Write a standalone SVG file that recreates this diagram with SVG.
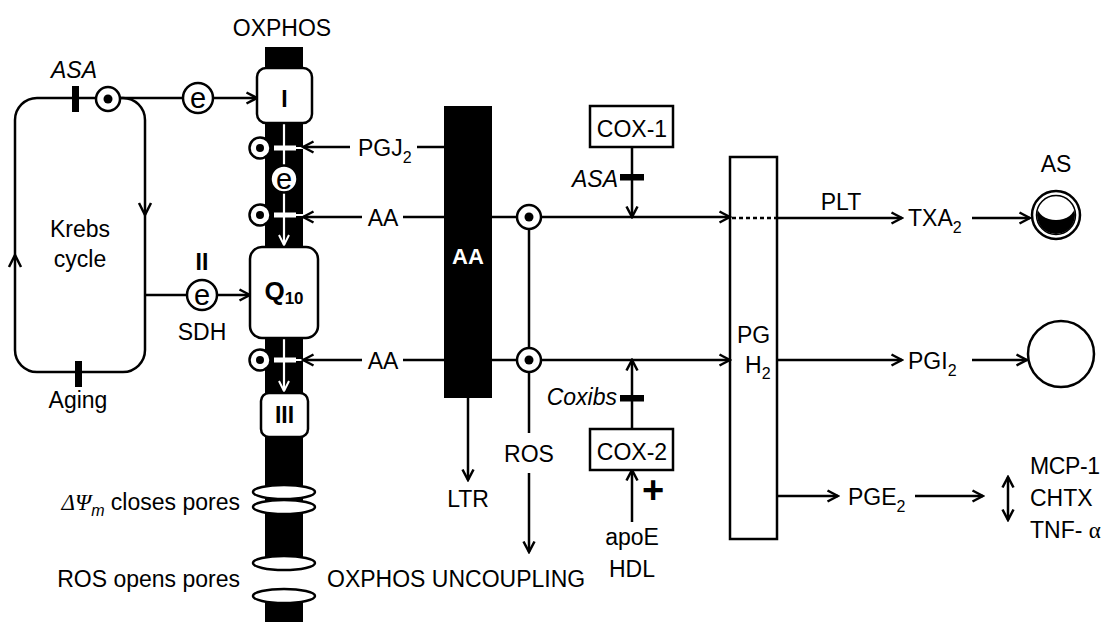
<svg xmlns="http://www.w3.org/2000/svg" width="1104" height="622" viewBox="0 0 1104 622">
<style>
text{font-family:"Liberation Sans",Arial,sans-serif;font-size:23px;fill:#000}
.it{font-style:italic}
.b{font-weight:bold}
.c{text-anchor:middle}
.e{text-anchor:end}
.ln{stroke:#000;stroke-width:2.5;fill:none}
.wl{stroke:#fff;stroke-width:2.2;fill:none}
.bx{fill:#fff;stroke:#000;stroke-width:2.5}
.dot{fill:#fff;stroke:#000;stroke-width:2.5}
.pore{fill:#fff;stroke:#000;stroke-width:2.5}
.el{font-size:29px}
</style>
<defs>
<marker id="ah" markerWidth="14" markerHeight="14" refX="12" refY="7" orient="auto-start-reverse" markerUnits="userSpaceOnUse" viewBox="0 0 14 14">
<path d="M1.5,1.5 L12,7 L1.5,12.5" fill="none" stroke="#000" stroke-width="2.5"/>
</marker>
<marker id="wah" markerWidth="14" markerHeight="14" refX="12" refY="7" orient="auto" markerUnits="userSpaceOnUse" viewBox="0 0 14 14">
<path d="M2,2 L12,7 L2,12" fill="none" stroke="#fff" stroke-width="2"/>
</marker>
<clipPath id="asclip"><circle cx="1056" cy="215" r="19"/></clipPath>
</defs>

<g id="oxphos-column">
<rect x="265" y="47" width="38" height="516" fill="#000"/>
<rect x="265" y="597" width="38" height="25" fill="#000"/>
<text class="c" x="282" y="36">OXPHOS</text>
</g>

<g id="pores">
<ellipse class="pore" cx="284" cy="492" rx="31" ry="7"/>
<ellipse class="pore" cx="284" cy="507" rx="31" ry="7"/>
<ellipse class="pore" cx="284" cy="563" rx="31" ry="7"/>
<ellipse class="pore" cx="284" cy="596" rx="31" ry="7"/>
<text class="e" x="240" y="510"><tspan class="it" font-family="Liberation Serif">ΔΨ</tspan><tspan class="it" font-size="16" dy="6">m</tspan><tspan dy="-6"> closes pores</tspan></text>
<text class="e" x="240" y="587">ROS opens pores</text>
</g>

<g id="connectors">
<!-- Krebs cycle loop -->
<rect class="ln" x="15" y="98" width="130" height="274" rx="22"/>
<path class="ln" d="M139,203 L145,215 L151,203"/>
<path class="ln" d="M9,267 L15,255 L21,267"/>
<line class="ln" x1="120" y1="98" x2="183" y2="98"/>
<line class="ln" x1="213" y1="98" x2="257" y2="98" marker-end="url(#ah)"/>
<line class="ln" x1="145" y1="295" x2="187" y2="295"/>
<line class="ln" x1="217" y1="295" x2="250" y2="295" marker-end="url(#ah)"/>
<!-- column internal white flow -->
<line class="wl" x1="284" y1="123" x2="284" y2="166"/>
<line class="wl" x1="284" y1="192" x2="284" y2="245" marker-end="url(#wah)"/>
<line class="wl" x1="284" y1="338" x2="284" y2="391" marker-end="url(#wah)"/>
<rect x="274" y="145.5" width="22" height="5" fill="#fff"/>
<rect x="295" y="147" width="8" height="2" fill="#fff"/>
<rect x="274" y="212.5" width="22" height="5" fill="#fff"/>
<rect x="295" y="214" width="8" height="2" fill="#fff"/>
<rect x="274" y="357.5" width="22" height="5" fill="#fff"/>
<rect x="295" y="359" width="8" height="2" fill="#fff"/>
<!-- inputs into column -->
<line class="ln" x1="350" y1="147" x2="303" y2="147" marker-end="url(#ah)"/>
<line class="ln" x1="417" y1="147" x2="444" y2="147"/>
<line class="ln" x1="362" y1="217" x2="303" y2="217" marker-end="url(#ah)"/>
<line class="ln" x1="403" y1="217" x2="444" y2="217"/>
<line class="ln" x1="362" y1="360" x2="303" y2="360" marker-end="url(#ah)"/>
<line class="ln" x1="403" y1="360" x2="444" y2="360"/>
<!-- AA to PGH2 -->
<line class="ln" x1="492" y1="217" x2="517" y2="217"/>
<line class="ln" x1="541" y1="217" x2="730" y2="217" marker-end="url(#ah)"/>
<line class="ln" x1="492" y1="360" x2="517" y2="360"/>
<line class="ln" x1="541" y1="360" x2="730" y2="360" marker-end="url(#ah)"/>
<line class="ln" x1="529" y1="229" x2="529" y2="348"/>
<line class="ln" x1="529" y1="372" x2="529" y2="433"/>
<line class="ln" x1="529" y1="473" x2="529" y2="552" marker-end="url(#ah)"/>
<line class="ln" x1="468" y1="398" x2="468" y2="480" marker-end="url(#ah)"/>
<!-- COX -->
<line class="ln" x1="632" y1="147" x2="632" y2="217" marker-end="url(#ah)"/>
<line class="ln" x1="632" y1="429" x2="632" y2="360" marker-end="url(#ah)"/>
<line class="ln" x1="632" y1="522" x2="632" y2="470" marker-end="url(#ah)"/>
<!-- PGH2 outputs -->
<line x1="732" y1="218" x2="777" y2="218" stroke="#000" stroke-width="2.5" stroke-dasharray="4,3"/>
<line class="ln" x1="777" y1="218" x2="902" y2="218" marker-end="url(#ah)"/>
<line class="ln" x1="972" y1="218" x2="1030" y2="218" marker-end="url(#ah)"/>
<line class="ln" x1="777" y1="360" x2="902" y2="360" marker-end="url(#ah)"/>
<line class="ln" x1="972" y1="360" x2="1027" y2="360" marker-end="url(#ah)"/>
<line class="ln" x1="777" y1="496" x2="838" y2="496" marker-end="url(#ah)"/>
<line class="ln" x1="915" y1="496" x2="983" y2="496" marker-end="url(#ah)"/>
<line class="ln" x1="1008" y1="477" x2="1008" y2="520" marker-start="url(#ah)" marker-end="url(#ah)"/>
</g>

<g id="krebs">
<text class="c" x="80" y="237">Krebs</text>
<text class="c" x="80" y="267">cycle</text>
</g>
<g id="asa-inhibit-krebs">
<rect x="72" y="86" width="7" height="26" fill="#000"/>
<text class="c it" x="74" y="78">ASA</text>
</g>
<g id="aging">
<rect x="75" y="361" width="7" height="26" fill="#000"/>
<text class="c" x="78" y="408">Aging</text>
</g>
<g id="dot-krebs">
<circle class="dot" cx="108" cy="99" r="12"/>
<circle cx="108" cy="99" r="4.5" fill="#000"/>
</g>
<g id="e-top">
<circle class="dot" cx="198" cy="98" r="15"/>
<text class="c el" x="198" y="107.5">e</text>
</g>
<g id="e-sdh">
<circle class="dot" cx="202" cy="295" r="15"/>
<text class="c el" x="202" y="304.5">e</text>
<text class="c b" x="202" y="270">II</text>
<text class="c" x="202" y="340">SDH</text>
</g>

<g id="complex-I">
<rect class="bx" x="257" y="68" width="55" height="55" rx="9"/>
<text class="c b" x="284.5" y="107">I</text>
</g>
<g id="e-column">
<circle class="dot" cx="284" cy="179" r="13.5"/>
<text class="c el" x="284" y="188.5">e</text>
</g>
<g id="Q10">
<rect class="bx" x="250" y="247" width="68" height="91" rx="12"/>
<text class="c b" x="284" y="300" style="font-size:26px">Q<tspan font-size="17" dy="4">10</tspan></text>
</g>
<g id="complex-III">
<rect class="bx" x="261" y="393" width="47" height="44" rx="8"/>
<text class="c b" x="284.5" y="423">III</text>
</g>
<g id="column-dots">
<circle class="dot" cx="260" cy="148" r="10.5"/>
<circle cx="260" cy="148" r="4" fill="#000"/>
<circle class="dot" cx="260" cy="215" r="10.5"/>
<circle cx="260" cy="215" r="4" fill="#000"/>
<circle class="dot" cx="260" cy="360" r="10.5"/>
<circle cx="260" cy="360" r="4" fill="#000"/>
</g>

<g id="labels-inputs">
<text x="358" y="156">PGJ<tspan font-size="16" dy="7">2</tspan></text>
<text class="c" x="383" y="226">AA</text>
<text class="c" x="383" y="369">AA</text>
</g>

<g id="AA-bar">
<rect x="444" y="106" width="48" height="292" fill="#000"/>
<text class="c b" x="468" y="264" style="fill:#fff;font-size:22px">AA</text>
</g>
<g id="LTR"><text class="c" x="468" y="507">LTR</text></g>

<g id="aa-dots">
<circle class="dot" cx="529" cy="217" r="12"/>
<circle cx="529" cy="217" r="4.5" fill="#000"/>
<circle class="dot" cx="529" cy="360" r="12"/>
<circle cx="529" cy="360" r="4.5" fill="#000"/>
</g>
<g id="ROS"><text class="c" x="529" y="462">ROS</text></g>
<g id="uncoupling"><text x="327" y="587">OXPHOS UNCOUPLING</text></g>

<g id="COX-1">
<rect class="bx" x="590" y="106" width="83" height="41"/>
<text class="c" x="632" y="137">COX-1</text>
<rect x="620" y="174" width="24" height="6.5" fill="#000"/>
<text class="e it" x="618" y="187">ASA</text>
</g>
<g id="COX-2">
<rect class="bx" x="590" y="429" width="83" height="41"/>
<text class="c" x="632" y="460">COX-2</text>
<rect x="620" y="395" width="24" height="6.5" fill="#000"/>
<text class="e it" x="617" y="405">Coxibs</text>
<text class="c b" x="653" y="503" style="font-size:38px">+</text>
<text class="c" x="632" y="545">apoE</text>
<text class="c" x="632" y="577">HDL</text>
</g>

<g id="PGH2">
<rect x="730" y="157" width="47" height="382" fill="none" stroke="#000" stroke-width="2.5"/>
<text x="737" y="343">PG</text>
<text x="745" y="373">H<tspan font-size="16" dy="6">2</tspan></text>
</g>

<g id="TXA2">
<text class="c" x="841" y="210">PLT</text>
<text x="908" y="226">TXA<tspan font-size="16" dy="7">2</tspan></text>
</g>
<g id="AS">
<text class="c" x="1056" y="172">AS</text>
<g clip-path="url(#asclip)">
<rect x="1030" y="190" width="52" height="50" fill="#000"/>
<ellipse cx="1056" cy="206" rx="19" ry="14" fill="#fff"/>
</g>
<circle cx="1056" cy="215" r="24" fill="none" stroke="#000" stroke-width="2.5"/>
<circle cx="1056" cy="215" r="19.5" fill="none" stroke="#000" stroke-width="1.5"/>
</g>
<g id="PGI2">
<text x="908" y="369">PGI<tspan font-size="16" dy="7">2</tspan></text>
<circle cx="1061" cy="354" r="33" fill="none" stroke="#000" stroke-width="2.5"/>
</g>
<g id="PGE2">
<text x="848" y="505">PGE<tspan font-size="16" dy="7">2</tspan></text>
</g>
<g id="cytokines">
<text x="1030" y="474" textLength="70">MCP-1</text>
<text x="1030" y="506">CHTX</text>
<text x="1030" y="538">TNF- <tspan font-family="Liberation Serif">α</tspan></text>
</g>
</svg>
